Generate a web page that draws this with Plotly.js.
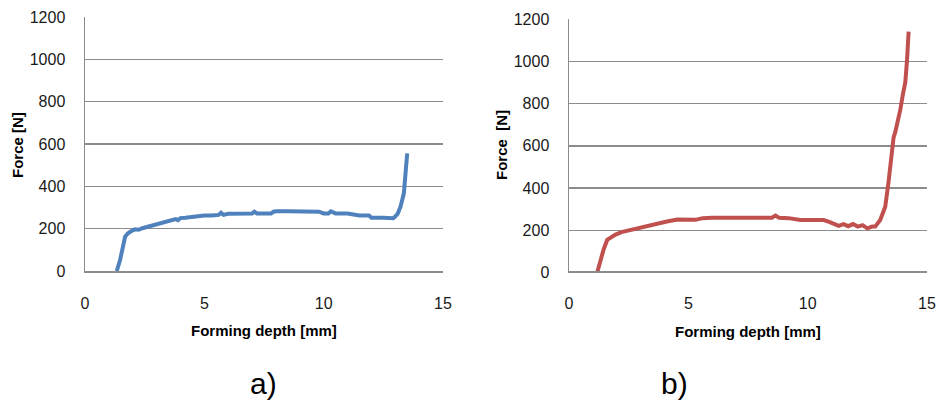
<!DOCTYPE html>
<html>
<head>
<meta charset="utf-8">
<script src="https://cdn.plot.ly/plotly-3.0.1.min.js"></script>
<style>html,body{margin:0;padding:0;background:#fff}#chart{width:937px;height:403px}</style>
</head>
<body>
<div id="chart"></div>
<script>
// Panel a) (blue)
var depthA = [1.33, 1.47, 1.6, 1.68, 1.8, 1.89, 2.0, 2.1, 2.25, 2.4, 2.6, 2.8, 3.0, 3.2, 3.4, 3.6, 3.8, 3.9, 4.0, 4.2, 4.4, 4.6, 4.8, 5.0, 5.3, 5.6, 5.7, 5.8, 6.0, 6.5, 7.0, 7.1, 7.2, 7.5, 7.8, 7.9, 8.0, 8.5, 9.0, 9.5, 9.8, 10.0, 10.2, 10.3, 10.5, 11.0, 11.3, 11.5, 11.9, 12.0, 12.5, 12.92, 13.1, 13.22, 13.36, 13.43, 13.5];
var forceA = [0, 52, 120, 162, 178, 186, 192, 197, 195, 202, 208, 212, 222, 225, 230, 238, 245, 240, 250, 252, 255, 258, 262, 262, 262, 265, 275, 265, 270, 270, 272, 280, 272, 272, 272, 280, 282, 282, 282, 282, 280, 272, 272, 282, 272, 272, 268, 262, 262, 252, 252, 249, 270, 304, 367, 493, 556];
// Panel b) (red)
var depthB = [1.18, 1.3, 1.45, 1.6, 1.8, 1.95, 2.2, 2.5, 2.86, 3.2, 3.7, 4.1, 4.54, 5.0, 5.3, 5.6, 6.0, 7.0, 8.0, 8.5, 8.65, 8.8, 9.2, 9.7, 10.2, 10.67, 10.9, 11.1, 11.3, 11.5, 11.7, 11.9, 12.1, 12.3, 12.5, 12.7, 12.83, 13.04, 13.25, 13.39, 13.53, 13.6, 13.67, 13.75, 13.88, 14.0, 14.09, 14.16, 14.23];
var forceB = [0, 50, 110, 155, 172, 180, 192, 200, 210, 220, 236, 242, 252, 250, 250, 258, 260, 260, 260, 260, 270, 260, 258, 249, 249, 249, 240, 230, 222, 230, 220, 230, 218, 225, 210, 218, 218, 249, 312, 430, 596, 640, 665, 700, 770, 850, 900, 1000, 1140];

var xTickVals = [0, 5, 10, 15];
var yTickVals = [0, 200, 400, 600, 800, 1000, 1200];
var panelLabels = ['a)', 'b)'];
var xTitle = 'Forming depth [mm]';
var yTitles = ['Force [N]', 'Force&nbsp;&nbsp;[N]'];

var W = 937, H = 403;
var grid = '#8c8c8c';
var tickFont = {family: 'Liberation Sans, Arial, sans-serif', size: 16, color: '#1a1a1a'};

function xAx(dom) {
  return {domain: dom, range: [0, 15], tickvals: xTickVals, showgrid: false, zeroline: false,
    showline: true, linecolor: grid, linewidth: 1.5, ticks: 'outside', ticklen: 17,
    tickcolor: 'rgba(0,0,0,0)', tickfont: tickFont, fixedrange: true, ticklabeloverflow: 'allow'};
}
function yAx(dom, anchor) {
  return {domain: dom, range: [0, 1200], tickvals: yTickVals, showgrid: true, gridcolor: grid,
    gridwidth: 1.5, zeroline: false, showline: true, linecolor: grid, linewidth: 1.5,
    ticks: 'outside', ticklen: 15, tickcolor: 'rgba(0,0,0,0)', tickfont: tickFont,
    anchor: anchor, fixedrange: true, ticklabeloverflow: 'allow'};
}

var traces = [
  {x: depthA, y: forceA, xaxis: 'x', yaxis: 'y', mode: 'lines',
   line: {color: '#4F81BD', width: 4}},
  {x: depthB, y: forceB, xaxis: 'x2', yaxis: 'y2', mode: 'lines',
   line: {color: '#C0504D', width: 4}}
];

function ann(text, px, py, size, bold, angle) {
  return {text: bold ? '<b>' + text + '</b>' : text, x: px / W, y: 1 - py / H,
    xref: 'paper', yref: 'paper', showarrow: false, xanchor: 'center', yanchor: 'middle',
    textangle: angle || 0,
    font: {family: 'Liberation Sans, Arial, sans-serif', size: size, color: '#000'}};
}

var layout = {
  width: W, height: H, margin: {l: 0, r: 0, t: 0, b: 0},
  paper_bgcolor: '#fff', plot_bgcolor: '#fff', showlegend: false,
  xaxis: xAx([85 / W, 443 / W]),
  yaxis: yAx([1 - 271 / H, 1 - 17 / H], 'x'),
  xaxis2: xAx([569 / W, 927 / W]),
  yaxis2: yAx([1 - 272.7 / H, 1 - 19 / H], 'x2'),
  annotations: [
    ann(xTitle, 263.5, 330, 15, true),
    ann(xTitle, 748, 331.5, 15, true),
    ann(yTitles[0], 18, 145, 15, true, -90),
    ann(yTitles[1], 502, 145, 15, true, -90),
    ann(panelLabels[0], 263, 383, 30, false),
    ann(panelLabels[1], 674, 383, 30, false)
  ]
};

Plotly.newPlot('chart', traces, layout, {staticPlot: true, displayModeBar: false});
</script>
</body>
</html>
